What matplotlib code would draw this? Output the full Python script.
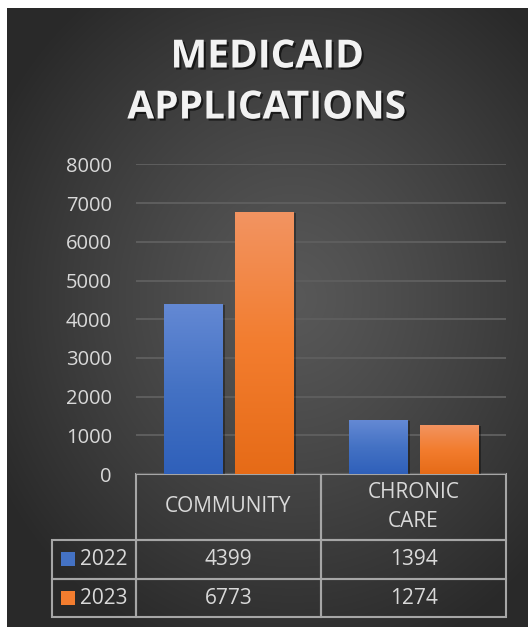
import numpy as np
import matplotlib
matplotlib.use("Agg")
import matplotlib.pyplot as plt
import matplotlib.patheffects as pe
from matplotlib.colors import LinearSegmentedColormap, to_rgb
from matplotlib.patches import Rectangle
from matplotlib.table import Table

# Data
categories = ["COMMUNITY", "CHRONIC\nCARE"]
series_labels = ["2022", "2023"]
values_2022 = [4399, 1394]
values_2023 = [6773, 1274]
y_ticks = [0, 1000, 2000, 3000, 4000, 5000, 6000, 7000, 8000]

plt.rcParams["font.family"] = ["Open Sans", "DejaVu Sans"]
text_color = "#d9d9d9"
font_size = 14.5

# Bar gradients (top, middle, bottom)
blue_grad = ["#6489d4", "#4472c4", "#2f60ba"]
orange_grad = ["#f29462", "#f37d2f", "#e66b17"]

fig = plt.figure(figsize=(5.28, 6.27), dpi=100)
fig.patch.set_facecolor("white")

# Background panel with a soft radial gradient
bg_ax = fig.add_axes([7 / 528, 0, 521 / 528, 1 - 8 / 627])
bg_ax.set_axis_off()
h, w = 619, 521
yy, xx = np.mgrid[0:h, 0:w]
dist = np.sqrt(((xx - 285) / 340.0) ** 2 + ((yy - 290) / 380.0) ** 2)
dist = np.clip(dist, 0, 1) ** 1.2
c_in = np.array(to_rgb("#585858"))
c_out = np.array(to_rgb("#292929"))
bg = c_in[None, None, :] * (1 - dist[..., None]) + c_out[None, None, :] * dist[..., None]
bg_ax.imshow(bg, aspect="auto", extent=[0, 1, 0, 1], zorder=0)

# Title with a drop shadow
title_fx = [pe.SimplePatchShadow(offset=(1.5, -1.5), shadow_rgbFace="black", alpha=0.6), pe.Normal()]
fig.text(0.506, 1 - 57 / 627, "MEDICAID", ha="center", va="center", fontsize=28,
         fontweight="bold", color="#f2f2f2", path_effects=title_fx)
fig.text(0.505, 1 - 108 / 627, "APPLICATIONS", ha="center", va="center", fontsize=28,
         fontweight="bold", color="#f2f2f2", path_effects=title_fx)

# Plot area
ax_px = dict(left=136, right=506, top=164.4, bottom=474)
ax_w = ax_px["right"] - ax_px["left"]
ax_h = ax_px["bottom"] - ax_px["top"]
ax = fig.add_axes([ax_px["left"] / 528, 1 - ax_px["bottom"] / 627, ax_w / 528, ax_h / 627])
ax.set_facecolor("none")

x = np.arange(len(categories))
bar_w = 0.315
offset = 0.19


def gradient_fill(ax, bar, colors):
    cmap = LinearSegmentedColormap.from_list("g", colors)
    grad = np.linspace(0, 1, 256).reshape(-1, 1)
    bx, by = bar.get_x(), bar.get_y()
    im = ax.imshow(grad, extent=[bx, bx + bar.get_width(), by, by + bar.get_height()],
                   origin="upper", aspect="auto", cmap=cmap, zorder=3)
    im.set_clip_path(bar)


shadow_fx = [pe.SimplePatchShadow(offset=(2, -1), shadow_rgbFace="black", alpha=0.35)]
bars_2022 = ax.bar(x - offset, values_2022, bar_w, color=blue_grad[1], zorder=3)
bars_2023 = ax.bar(x + offset, values_2023, bar_w, color=orange_grad[1], zorder=3)
for bar in bars_2022:
    bar.set_path_effects(shadow_fx + [pe.Normal()])
    gradient_fill(ax, bar, blue_grad)
for bar in bars_2023:
    bar.set_path_effects(shadow_fx + [pe.Normal()])
    gradient_fill(ax, bar, orange_grad)

ax.set_xlim(-0.5, len(categories) - 0.5)
ax.set_ylim(0, 8000)
ax.set_yticks(y_ticks)
ax.set_xticks([])
ax.tick_params(axis="y", length=0, pad=17.3, labelsize=font_size, labelcolor=text_color)
ax.yaxis.grid(True, color="#5e5e5e", linewidth=1.4)
ax.set_axisbelow(True)
for s in ax.spines.values():
    s.set_visible(False)

# Data table below the plot (sizes in axes fractions; row labels hang off to the left)
lbl_w = 84 / ax_w
col_w = 1.0 / len(categories)
head_h = 66 / ax_h
row_h = 38.7 / ax_h
tbl_h = head_h + row_h * len(series_labels)
tbl = Table(ax, bbox=[0, -tbl_h, 1.0, tbl_h])
tbl.auto_set_font_size(False)
for j, cat in enumerate(categories):
    tbl.add_cell(0, j, width=col_w, height=head_h, text=cat, loc="center")
series_values = [values_2022, values_2023]
for i, (lab, vals) in enumerate(zip(series_labels, series_values)):
    tbl.add_cell(i + 1, -1, width=lbl_w, height=row_h, text=lab, loc="right")
    for j, v in enumerate(vals):
        tbl.add_cell(i + 1, j, width=col_w, height=row_h, text=str(v), loc="center")
for (r, c), cell in tbl.get_celld().items():
    cell.set_facecolor("none")
    cell.set_edgecolor("#a6a6a6")
    cell.set_linewidth(1.5)
    txt = cell.get_text()
    txt.set_color(text_color)
    txt.set_fontsize(15)
    if r == 0:
        txt.set_linespacing(1.55)
ax.add_table(tbl)

# Legend keys inside the row label cells
key_w, key_h = 14 / ax_w, 14 / ax_h
for i, colors in enumerate([blue_grad, orange_grad]):
    yc = -head_h - row_h * (i + 0.5)
    ax.add_patch(Rectangle((-75 / ax_w, yc - key_h / 2), key_w, key_h, transform=ax.transAxes,
                           facecolor=colors[1], edgecolor="none", clip_on=False))

fig.savefig("out.png", dpi=100)
